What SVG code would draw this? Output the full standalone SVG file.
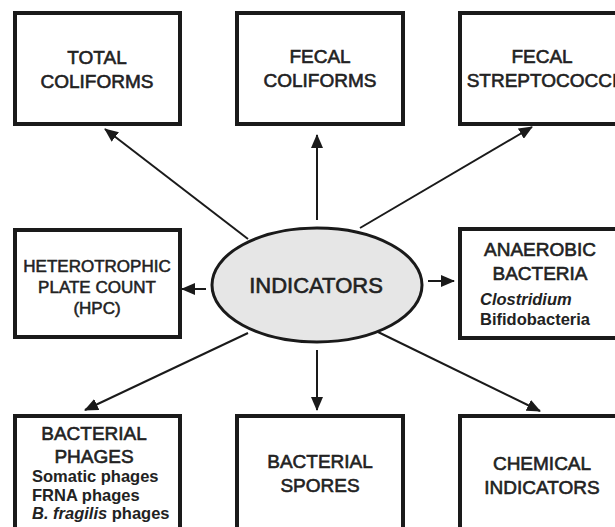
<svg xmlns="http://www.w3.org/2000/svg" width="615" height="527" viewBox="0 0 615 527">
<defs>
<marker id="ah" markerUnits="userSpaceOnUse" markerWidth="14" markerHeight="12" refX="13" refY="6" orient="auto">
<path d="M0,0 L14,6 L0,12 Z" fill="#1a1a1a"/>
</marker>
</defs>
<style>
.box{fill:#fff;stroke:#1a1a1a;stroke-width:4}
.t{font-family:"Liberation Sans",Arial,sans-serif;fill:#222;stroke:#222;stroke-width:0.6;text-anchor:middle;font-size:19px}
.big{font-size:22px}
.s{font-family:"Liberation Sans",Arial,sans-serif;fill:#222;font-size:16.5px;font-weight:bold}
.h{font-family:"Liberation Sans",Arial,sans-serif;fill:#222;stroke:#222;stroke-width:0.55;text-anchor:middle;font-size:17px}
.c{stroke:#1a1a1a;stroke-width:2;fill:none;marker-end:url(#ah)}
</style>
<rect width="615" height="527" fill="#fff"/>
<g id="connectors">
<line class="c" x1="248" y1="239" x2="105" y2="129"/>
<line class="c" x1="317" y1="220" x2="317" y2="135"/>
<line class="c" x1="360" y1="228" x2="532" y2="127"/>
<line class="c" x1="206" y1="289" x2="182" y2="289"/>
<line class="c" x1="428" y1="281" x2="454" y2="281"/>
<line class="c" x1="248" y1="333" x2="85" y2="410"/>
<line class="c" x1="317" y1="350" x2="317" y2="410"/>
<line class="c" x1="378" y1="332" x2="540" y2="411"/>
</g>
<g id="indicators">
<ellipse cx="317" cy="285" rx="105" ry="57" fill="#e6e6e6" stroke="#1a1a1a" stroke-width="3"/>
<text class="t big" x="316" y="293">INDICATORS</text>
</g>
<g id="total-coliforms">
<rect class="box" x="15" y="13" width="165" height="111"/>
<text class="t" x="97" y="64">TOTAL</text>
<text class="t" x="97" y="88">COLIFORMS</text>
</g>
<g id="fecal-coliforms">
<rect class="box" x="237" y="13" width="166" height="111"/>
<text class="t" x="320" y="63">FECAL</text>
<text class="t" x="320" y="87">COLIFORMS</text>
</g>
<g id="fecal-streptococci">
<rect class="box" x="460" y="13" width="166" height="111"/>
<text class="t" x="542" y="63">FECAL</text>
<text class="t" x="542" y="87">STREPTOCOCCI</text>
</g>
<g id="hpc">
<rect class="box" x="15" y="230" width="165" height="107"/>
<text class="h" x="97" y="272">HETEROTROPHIC</text>
<text class="h" x="97" y="293">PLATE COUNT</text>
<text class="h" x="97" y="314">(HPC)</text>
</g>
<g id="anaerobic">
<rect class="box" x="460" y="229" width="166" height="109"/>
<text class="t" x="540" y="256">ANAEROBIC</text>
<text class="t" x="540" y="280">BACTERIA</text>
<text class="s" x="480" y="305" font-style="italic">Clostridium</text>
<text class="s" x="480" y="325">Bifidobacteria</text>
</g>
<g id="phages">
<rect class="box" x="15" y="416" width="165" height="114"/>
<text class="t" x="94" y="440">BACTERIAL</text>
<text class="t" x="94" y="463">PHAGES</text>
<text class="s" x="32" y="482">Somatic phages</text>
<text class="s" x="32" y="501">FRNA phages</text>
<text class="s" x="32" y="519"><tspan font-style="italic">B. fragilis</tspan> phages</text>
</g>
<g id="spores">
<rect class="box" x="237" y="416" width="166" height="114"/>
<text class="t" x="320" y="468">BACTERIAL</text>
<text class="t" x="320" y="492">SPORES</text>
</g>
<g id="chemical">
<rect class="box" x="460" y="416" width="166" height="114"/>
<text class="t" x="542" y="470">CHEMICAL</text>
<text class="t" x="542" y="494">INDICATORS</text>
</g>
</svg>
